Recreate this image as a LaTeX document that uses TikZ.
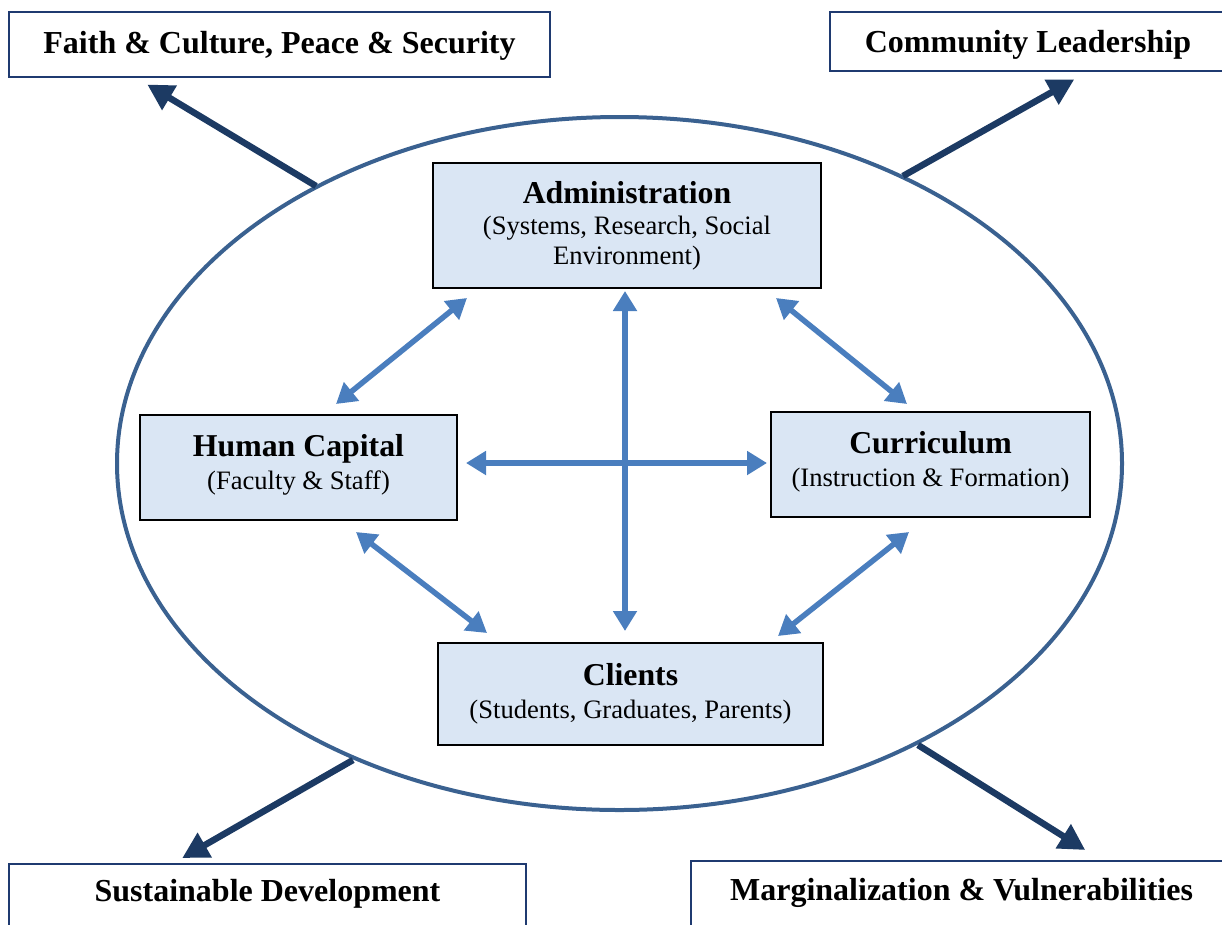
\documentclass[tikz,border=0pt]{standalone}
\usepackage{fontspec}
\setmainfont{Liberation Serif}
\usetikzlibrary{arrows.meta,calc}
\definecolor{navy}{HTML}{1C3A63}
\definecolor{ellcol}{HTML}{3A6190}
\definecolor{linkblue}{HTML}{4A7EBE}
\definecolor{boxfill}{HTML}{DAE6F4}
\definecolor{outerborder}{HTML}{1F3A70}
\tikzset{
  outerbox/.style={draw=outerborder, line width=1.5pt, fill=white, inner sep=0pt,
    font=\fontsize{32}{34}\selectfont\bfseries},
  innerbox/.style={draw=black, line width=2pt, fill=boxfill, align=center, inner sep=0pt,
    font=\fontsize{26.6}{30}\selectfont},
  outarrow/.style={draw=navy, line width=6.5pt, -{Triangle[length=26pt,width=27pt]}},
  linkarrow/.style={draw=linkblue, line width=5.5pt, {Triangle[length=20pt,width=23pt]}-{Triangle[length=20pt,width=23pt]}},
}
\newcommand{\ttl}[1]{{\fontsize{31.8}{30}\selectfont\bfseries #1}}
\begin{document}
\begin{tikzpicture}[x=1pt,y=-1pt]
\useasboundingbox (0,0) rectangle (1222,924);
% ellipse
\draw[ellcol, line width=4pt] (619.5,463.5) ellipse [x radius=502.5pt, y radius=346.5pt];
% outer boxes
\node[outerbox, minimum width=541pt, anchor=north, text height=42pt, text depth=23pt] (faith) at (279.5,11) {Faith \& Culture, Peace \& Security};
\node[outerbox, minimum width=396pt, anchor=north, text height=41pt, text depth=18pt] (comm) at (1028,11) {Community Leadership};
\node[outerbox, minimum width=517pt, anchor=north, text height=38pt, text depth=60pt] (sus) at (267.5,863) {Sustainable Development};
\node[outerbox, minimum width=541pt, anchor=north, text height=40pt, text depth=60pt] (marg) at (961.5,860) {Marginalization \& Vulnerabilities};
% inner boxes
\node[innerbox, minimum width=388pt, minimum height=125pt] (adm) at (627,225.5)
  {\ttl{Administration}\\[1pt](Systems, Research, Social\\Environment)};
\node[innerbox, minimum width=317pt, minimum height=105pt] (hc) at (298.5,467.5)
  {\ttl{Human Capital}\\[3pt](Faculty \& Staff)\rule[-12pt]{0pt}{0pt}};
\node[innerbox, minimum width=319pt, minimum height=105pt] (cur) at (930.5,464.5)
  {\ttl{Curriculum}\\[3pt](Instruction \& Formation)\rule[-12pt]{0pt}{0pt}};
\node[innerbox, minimum width=385pt, minimum height=102pt] (cli) at (630.5,694)
  {\ttl{Clients}\\[3pt](Students, Graduates, Parents)};
% outward arrows
\coordinate (faithS) at (316,186);
\coordinate (commS) at (903,176);
\coordinate (susS) at (353,760);
\coordinate (margS) at (918,745);
\draw[outarrow] (faithS) -- ($(faith.south west)+(139,7)$);
\draw[outarrow] (commS) -- ($(comm.south west)+(245,8)$);
\draw[outarrow] (susS) -- ($(sus.north west)+(174,-5)$);
\draw[outarrow] (margS) -- ($(marg.north west)+(395,-10)$);
% link arrows
\draw[linkarrow] ($(adm.south)+(-2,2)$) -- ($(cli.north)+(-5.5,-11)$);
\draw[linkarrow] ($(hc.east)+(8,-4.5)$) -- ($(cur.west)+(-3,-1.5)$);
\draw[linkarrow] ($(adm.south west)+(35,9)$) -- ($(hc.north)+(37.5,-10)$);
\draw[linkarrow] ($(adm.south east)+(-46,9)$) -- ($(cur.north)+(-23.5,-7)$);
\draw[linkarrow] ($(hc.south)+(57.5,11)$) -- ($(cli.north west)+(50,-9)$);
\draw[linkarrow] ($(cur.south)+(-21.5,14)$) -- ($(cli.north east)+(-46,-6)$);
\end{tikzpicture}
\end{document}
